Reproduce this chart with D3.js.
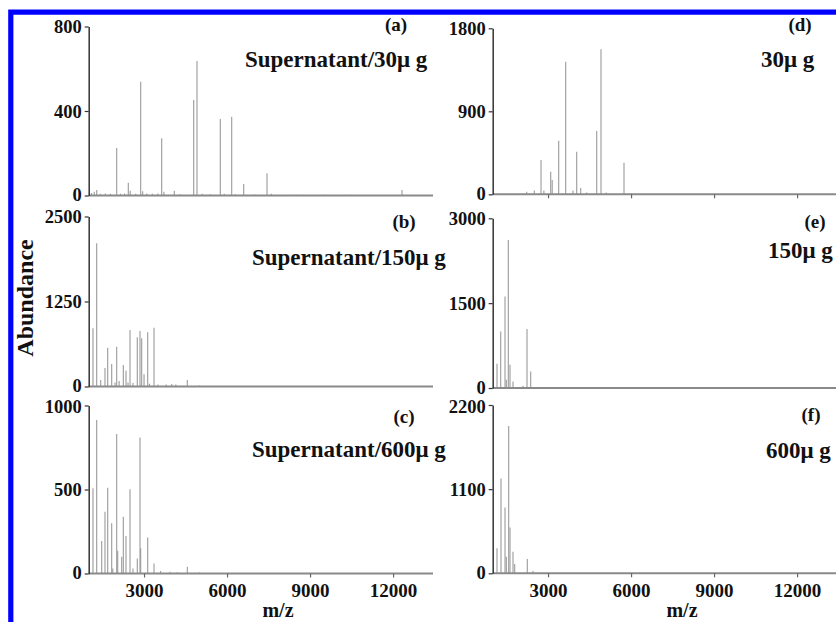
<!DOCTYPE html>
<html><head><meta charset="utf-8">
<script src="https://cdn.jsdelivr.net/npm/d3@7"></script>
<style>
body{margin:0;background:#fff}
svg{display:block}
text{font-family:"Liberation Serif","Times New Roman",serif;font-weight:bold;fill:#111}
</style>
</head><body>
<svg id="c" width="836" height="622"></svg>
<script>
// ---- data (m/z positions and abundances) ----
const mzA = [1100,1200,1290,1420,1600,1780,2012,2150,2300,2431,2500,2700,2879,2950,3100,3300,3500,3638,3720,4094,4300,4795,4914,5100,5400,5756,5900,6168,6300,6602,7000,7444,7600,8500,9500,10500,12323];
const abA = [12,18,26,8,10,8,225,8,10,60,22,8,539,20,10,8,10,271,18,23,6,452,637,8,6,362,8,373,6,54,5,105,8,4,4,4,26];

const mzB = [1155,1289,1434,1589,1687,1831,1950,2012,2100,2251,2348,2420,2493,2600,2756,2854,2915,3000,3132,3200,3360,3500,3800,4000,4150,4564,5000];
const abB = [856,2105,95,272,570,330,60,585,80,316,232,60,830,50,723,816,709,180,797,40,865,30,30,35,30,95,15];

const mzC = [1155,1289,1470,1589,1687,1831,1870,2012,2048,2193,2251,2348,2493,2600,2756,2854,2879,3132,3360,3600,3938,4200,4564,5000];
const abC = [507,914,193,368,511,299,30,830,136,100,338,223,501,30,90,810,150,215,60,15,10,8,40,6];

const mzD = [2229,2504,2746,2850,3096,3150,3385,3638,3900,4036,4180,4400,4759,4914,5100,5745,6000,7500];
const abD = [28,40,372,40,245,155,581,1438,40,462,68,20,686,1572,20,343,10,6];

const mzE = [1156,1289,1445,1492,1564,1625,1734,2095,2240,2373];
const abE = [429,999,1616,147,2617,411,116,40,1041,293];

const mzF = [1156,1300,1445,1492,1578,1625,1734,1795,2250,2456];
const abF = [326,1240,861,217,1926,600,282,121,187,30];

const xDomain = [1000, 13500];
const xTicks = [3000, 6000, 9000, 12000];
const yTicksA = [0, 400, 800];
const yTicksB = [0, 1250, 2500];
const yTicksC = [0, 500, 1000];
const yTicksD = [0, 900, 1800];
const yTicksE = [0, 1500, 3000];
const yTicksF = [0, 1100, 2200];
const tags = ["(a)","(b)","(c)","(d)","(e)","(f)"];
const names = ["Supernatant/30\u03bc g","Supernatant/150\u03bc g","Supernatant/600\u03bc g","30\u03bc g","150\u03bc g","600\u03bc g"];

// ---- layout ----
const L = {x0:88.7, x1:433}, R = {x0:492.7, x1:836};
const pxPerUnit = 27.67/1000;
const panels = [
  {col:L, y0:195.5, y1:26.5, mz:mzA, ab:abA, yt:yTicksA, tag:[396,31], name:[245,67], xt:false, xtick:false},
  {col:L, y0:386.5, y1:216.5, mz:mzB, ab:abB, yt:yTicksB, tag:[404,228], name:[252,265], xt:false, xtick:false},
  {col:L, y0:573.5, y1:405.5, mz:mzC, ab:abC, yt:yTicksC, tag:[404,423], name:[252,457], xt:true, xtick:true},
  {col:R, y0:194.3, y1:28.3, mz:mzD, ab:abD, yt:yTicksD, tag:[800,31], name:[761,67], xt:false, xtick:true},
  {col:R, y0:388, y1:218.3, mz:mzE, ab:abE, yt:yTicksE, tag:[815,228], name:[768,258], xt:false, xtick:false},
  {col:R, y0:573.3, y1:405, mz:mzF, ab:abF, yt:yTicksF, tag:[811,421], name:[766,458], xt:true, xtick:true}
];

const svg = d3.select("#c");
svg.append("rect").attr("x",0).attr("y",0).attr("width",836).attr("height",622).attr("fill","#fff");

panels.forEach((p,i)=>{
  const xs = d3.scaleLinear().domain(xDomain).range([p.col.x0, p.col.x0 + pxPerUnit*(xDomain[1]-xDomain[0])]);
  const y = d3.scaleLinear().domain([0, p.yt[p.yt.length-1]]).range([p.y0, p.y1]);
  const g = svg.append("g");
  const clipId = "clip"+i;
  svg.append("clipPath").attr("id",clipId).append("rect")
     .attr("x",p.col.x0).attr("y",p.y1-5).attr("width",p.col.x1-p.col.x0).attr("height",p.y0-p.y1+10);

  // peaks
  g.append("g").attr("clip-path",`url(#${clipId})`).selectAll("line").data(p.mz.map((m,k)=>[m,p.ab[k]])).join("line")
    .attr("x1",d=>xs(d[0])).attr("x2",d=>xs(d[0]))
    .attr("y1",y(0)).attr("y2",d=>y(d[1]))
    .attr("stroke","#9a9a9a").attr("stroke-width",1.1);

  // x axis
  const xa = d3.axisBottom(xs).tickValues(xTicks).tickSize(p.xtick?4:0).tickSizeOuter(0).tickPadding(6)
      .tickFormat(p.xt? d3.format("d") : ()=> "");
  const gx = g.append("g").attr("transform",`translate(0,${p.y0})`).call(xa);
  gx.select(".domain").attr("d",`M${p.col.x0},0H${p.col.x1}`).attr("stroke","#8a8a8a").attr("stroke-width",2);
  gx.selectAll(".tick line").attr("stroke","#666").attr("stroke-width",1.2);
  gx.selectAll(".tick text").attr("font-size",19).attr("fill","#111").attr("dy","0.72em")
     .attr("font-family","Liberation Serif, serif").attr("font-weight","bold");

  // y axis
  const ya = d3.axisLeft(y).tickValues(p.yt).tickSize(4).tickSizeOuter(0).tickPadding(3).tickFormat(d3.format("d"));
  const gy = g.append("g").attr("transform",`translate(${p.col.x0},0)`).call(ya);
  gy.select(".domain").attr("stroke","#333").attr("stroke-width",1.5);
  gy.selectAll(".tick line").attr("stroke","#333").attr("stroke-width",1.2);
  gy.selectAll(".tick text").attr("font-size",18.5).attr("fill","#111")
     .attr("dy", d => d===0 ? "0.28em" : (i===2||i===5) && d===p.yt[2] ? "0.40em" : "0.34em")
     .attr("font-family","Liberation Serif, serif").attr("font-weight","bold");

  // labels
  g.append("text").attr("x",p.tag[0]).attr("y",p.tag[1]).attr("text-anchor","middle").attr("font-size",19).text(tags[i]);
  g.append("text").attr("x",p.name[0]).attr("y",p.name[1]).attr("font-size",23).text(names[i]);
});

// axis titles
svg.append("text").attr("x",278).attr("y",617).attr("text-anchor","middle").attr("font-size",20).text("m/z");
svg.append("text").attr("x",682).attr("y",617).attr("text-anchor","middle").attr("font-size",20).text("m/z");
svg.append("text").attr("transform","translate(33,298) rotate(-90)").attr("text-anchor","middle").attr("font-size",24).text("Abundance");

// blue frame
svg.append("path").attr("d","M10.8,630V12.2H845").attr("fill","none").attr("stroke","#0000ff").attr("stroke-width",5.2);
</script>
</body></html>
